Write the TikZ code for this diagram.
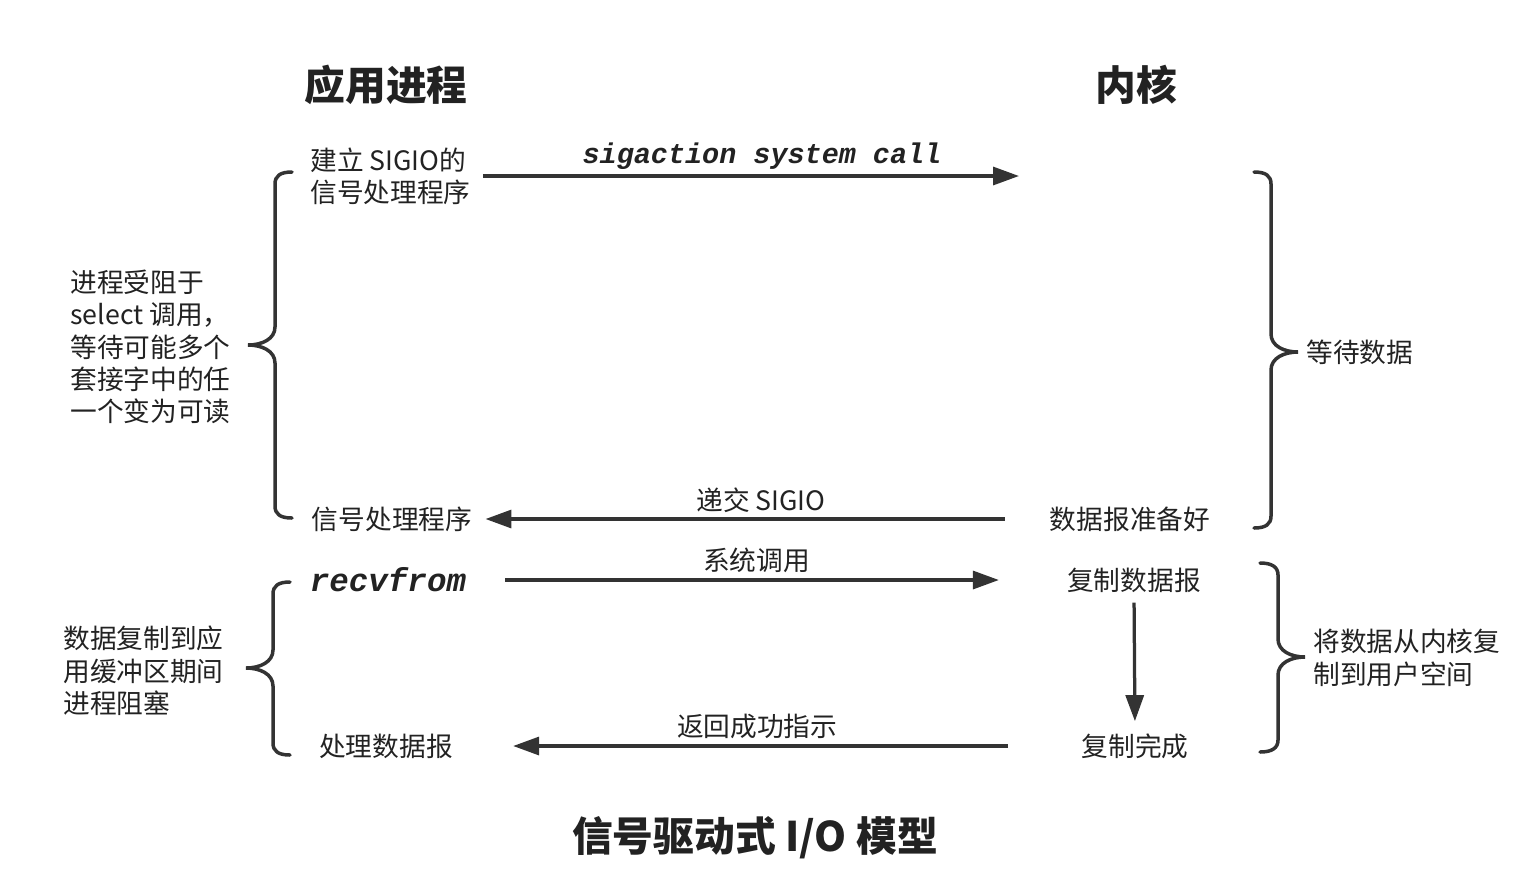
\documentclass[tikz,border=0pt]{standalone}
\usepackage{fontspec}
\setmainfont{Noto Sans CJK SC}
\newfontfamily\codefont{Liberation Mono}
\usetikzlibrary{arrows.meta}
\definecolor{ink}{HTML}{333333}
\definecolor{txt}{HTML}{222222}

\begin{document}
\begin{tikzpicture}[
        x=0.2mm, y=-0.2mm,
        >={Triangle[length=5.2mm, width=3.6mm]},
        every node/.style={font=\fontsize{15.2}{18.4}\selectfont, text=txt, inner sep=0pt},
        head/.style={font=\fontsize{23.2}{26}\selectfont\bfseries},
        code/.style={font=\codefont\bfseries\itshape\fontsize{16.2}{18}\selectfont},
        arr/.style={->, line width=0.65mm, draw=ink},
        brc/.style={line width=0.7mm, draw=ink, line cap=round}
    ]
    \useasboundingbox (0,0) rectangle (1525,884);

    % column heads
    \node[head] (app) at (386,85) {应用进程};
    \node[head] (kern) at (1136,85) {内核};

    % application side
    \node[anchor=west, align=left] (setup) at (310,176) {建立 SIGIO的\\信号处理程序};
    \node (handler) at (392,519) {信号处理程序};
    \node[code, font=\codefont\bfseries\itshape\fontsize{18.5}{20}\selectfont] (recv) at (388,580) {recvfrom};
    \node (proc) at (386,746) {处理数据报};

    % kernel side
    \coordinate (ksig) at (1019,176);
    \node (ready) at (1130,519) {数据报准备好};
    \node (copy) at (1134,580) {复制数据报};
    \node (done) at (1135,746) {复制完成};

    % messages
    \draw[arr, shorten <=2.4mm] (setup.east) -- (ksig)
        node[midway, above=1mm, xshift=3.4mm, code] {sigaction system call};
    \draw[arr, shorten <=9mm, shorten >=2.6mm] (ready.west) -- (handler.east)
        node[midway, above=1mm] {递交 SIGIO};
    \draw[arr, shorten <=7.8mm, shorten >=13.6mm] (recv.east) -- (copy.west)
        node[midway, above=1.2mm, xshift=-2mm] {系统调用};
    \draw[arr, shorten <=2mm, shorten >=2.4mm] (copy.south) -- (done.north);
    \draw[arr, shorten <=14.6mm, shorten >=12mm] (done.west) -- (proc.east)
        node[midway, above=1.2mm, xshift=-2mm] {返回成功指示};

    % braces
    \coordinate (lb1) at (292,172);
    \coordinate (rb1) at (1254,172);
    \coordinate (lb2) at (290,582);
    \coordinate (rb2) at (1260,563);
    \draw[brc] (lb1) .. controls +(-12,0) and +(0,-8) .. ++(-17,12) -- ++(0,143)
        .. controls +(0,12) and +(14,0) .. ++(-27,18) .. controls +(14,0) and +(0,-12) .. ++(27,18)
        -- ++(0,143) .. controls +(0,8) and +(-12,0) .. ++(17,12);
    \draw[brc] (rb1) .. controls +(12,0) and +(0,-8) .. ++(17,12) -- ++(0,150)
        .. controls +(0,12) and +(-14,0) .. ++(27,18) .. controls +(-14,0) and +(0,-12) .. ++(-27,18)
        -- ++(0,146) .. controls +(0,8) and +(12,0) .. ++(-17,12);
    \draw[brc] (lb2) .. controls +(-12,0) and +(0,-8) .. ++(-17,12) -- ++(0,56)
        .. controls +(0,12) and +(14,0) .. ++(-27,18) .. controls +(14,0) and +(0,-12) .. ++(27,18)
        -- ++(0,57) .. controls +(0,8) and +(-12,0) .. ++(17,12);
    \draw[brc] (rb2) .. controls +(12,0) and +(0,-8) .. ++(18,12) -- ++(0,64)
        .. controls +(0,12) and +(-14,0) .. ++(27,18) .. controls +(-14,0) and +(0,-12) .. ++(-27,18)
        -- ++(0,65) .. controls +(0,8) and +(12,0) .. ++(-18,12);

    \node[anchor=west, align=left] (blk1) at (70,347)
        {进程受阻于\\select 调用，\\等待可能多个\\套接字中的任\\一个变为可读};
    \node[anchor=west] (wait) at (1306,352) {等待数据};
    \node[anchor=west, align=left] (blk2) at (63,671)
        {数据复制到应\\用缓冲区期间\\进程阻塞};
    \node[anchor=west, align=left] (cpy) at (1313,658)
        {将数据从内核复\\制到用户空间};

    % caption
    \node[head] (title) at (755,838) {信号驱动式 I/O 模型};
\end{tikzpicture}
\end{document}
